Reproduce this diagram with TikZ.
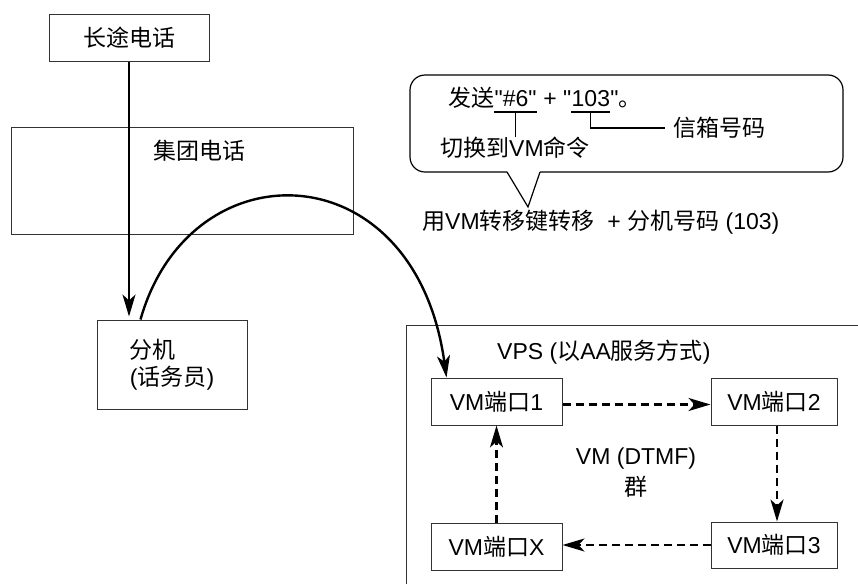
\documentclass[tikz,border=0pt]{standalone}
\usepackage{fontspec}
\setmainfont{Liberation Sans}[Ligatures=TeXOff]
\newfontfamily\zh{Noto Sans CJK SC}
\usetikzlibrary{arrows.meta,calc}
\begin{document}
\begin{tikzpicture}[x=1pt,y=-1pt,
  txt/.style={inner sep=0pt, font=\fontsize{23}{27}\selectfont},
  box/.style={draw=black!80, line width=1pt, inner sep=0pt, font=\fontsize{23}{27}\selectfont},
  arr/.style={line width=2.4pt, -{Stealth[length=22pt,width=13pt,inset=6pt]}},
  darr/.style={arr, dash pattern=on 8pt off 5pt},
  thin/.style={line width=1.2pt}]
\useasboundingbox (0,0) rectangle (858,584);

% boxes on the left
\node[box, minimum width=160pt, minimum height=47pt] (ld) at (129,37.5) {{\zh 长途电话}};
\node[box, minimum width=342pt, minimum height=107pt] (grp) at (182,180.5) {};
\node[txt, anchor=west] (grpt) at (153,151) {\zh 集团电话};
\node[box, minimum width=150pt, minimum height=89pt, align=left] (ext) at (172,364.5) {{\zh 分机}\\({\zh 话务员})};

% VPS frame
\draw[draw=black!80, line width=1pt] (406,584) -- (406,325) -- (858,325);
\node[txt, anchor=west] (vps) at (497,352) {VPS ({\zh 以}AA{\zh 服务方式})};

\node[box, minimum width=131pt, minimum height=47pt] (b1) at (496.5,401.5) {VM{\zh 端口}1};
\node[box, minimum width=126pt, minimum height=47pt] (b2) at (774,401.5) {VM{\zh 端口}2};
\node[box, minimum width=126pt, minimum height=46pt] (b3) at (774,545) {VM{\zh 端口}3};
\node[box, minimum width=131pt, minimum height=47pt] (bx) at (496.5,546.5) {VM{\zh 端口}X};
\node[txt, align=center, font=\fontsize{23}{31}\selectfont] (grp2) at (636,472.5) {VM (DTMF)\\{\zh 群}};

\draw[darr] ($(b1.east)+(0,3)$) -- ($(b2.west)+(0,3)$);
\draw[darr] ($(b2.south)+(3,0)$) -- ($(b3.north)+(3,0)$);
\draw[darr] (b3.west) -- (bx.east |- b3.west);
\draw[darr] (bx.north) -- (b1.south);

% main arrows
\draw[arr, shorten >=3pt] (ld.south) -- (ld.south |- ext.north);
\coordinate (cs) at ($(ext.north west)+(44,0)$);
\coordinate (ce) at ($(b1.north west)+(16,0)$);
\draw[arr] (cs) .. controls (190,145) and (415,150) .. (ce);

% callout
\coordinate (pl) at (507,172);
\coordinate (pr) at (540,172);
\coordinate (pt) at (528,207);
\draw[thin, rounded corners=15pt] (pl) -- (410,172) -- (410,75) -- (843,75) -- (843,172) -- (pr);
\draw[thin, line join=miter] (pl) -- (pt) -- (pr);

\node[txt, anchor=base west] (s1) at (448,106.5) {\zh 发送};
\node[txt, anchor=base west] (s2) at (s1.base east) {"\#6"};
\node[txt, anchor=base west] (s3) at (s2.base east) {~+~"};
\node[txt, anchor=base west] (s4) at (s3.base east) {103};
\node[txt, anchor=base west] (s5) at (s4.base east) {"{\zh 。}};

\node[txt, anchor=west] (sw) at (440,148) {{\zh 切换到}VM{\zh 命令}};
\node[txt, anchor=west] (mb) at (673,128) {\zh 信箱号码};

\coordinate (u1) at ($(s2.base)+(0,5.5)$);
\coordinate (u2) at ($(s4.base)+(0,5.5)$);
\draw[thin] ($(s2.base west)+(0,5.5)$) -- ($(s2.base east)+(0,5.5)$);
\draw[thin] ($(s4.base west)+(0,5.5)$) -- ($(s4.base east)+(0,5.5)$);
\draw[thin] (u1) -- (u1 |- sw.north);
\draw[thin] (u2) |- ($(mb.west)+(-8,0)$);

\node[txt, anchor=west] (tr) at (422,222) {{\zh 用}VM{\zh 转移键转移}\ \ + {\zh 分机号码} (103)};
\end{tikzpicture}
\end{document}
